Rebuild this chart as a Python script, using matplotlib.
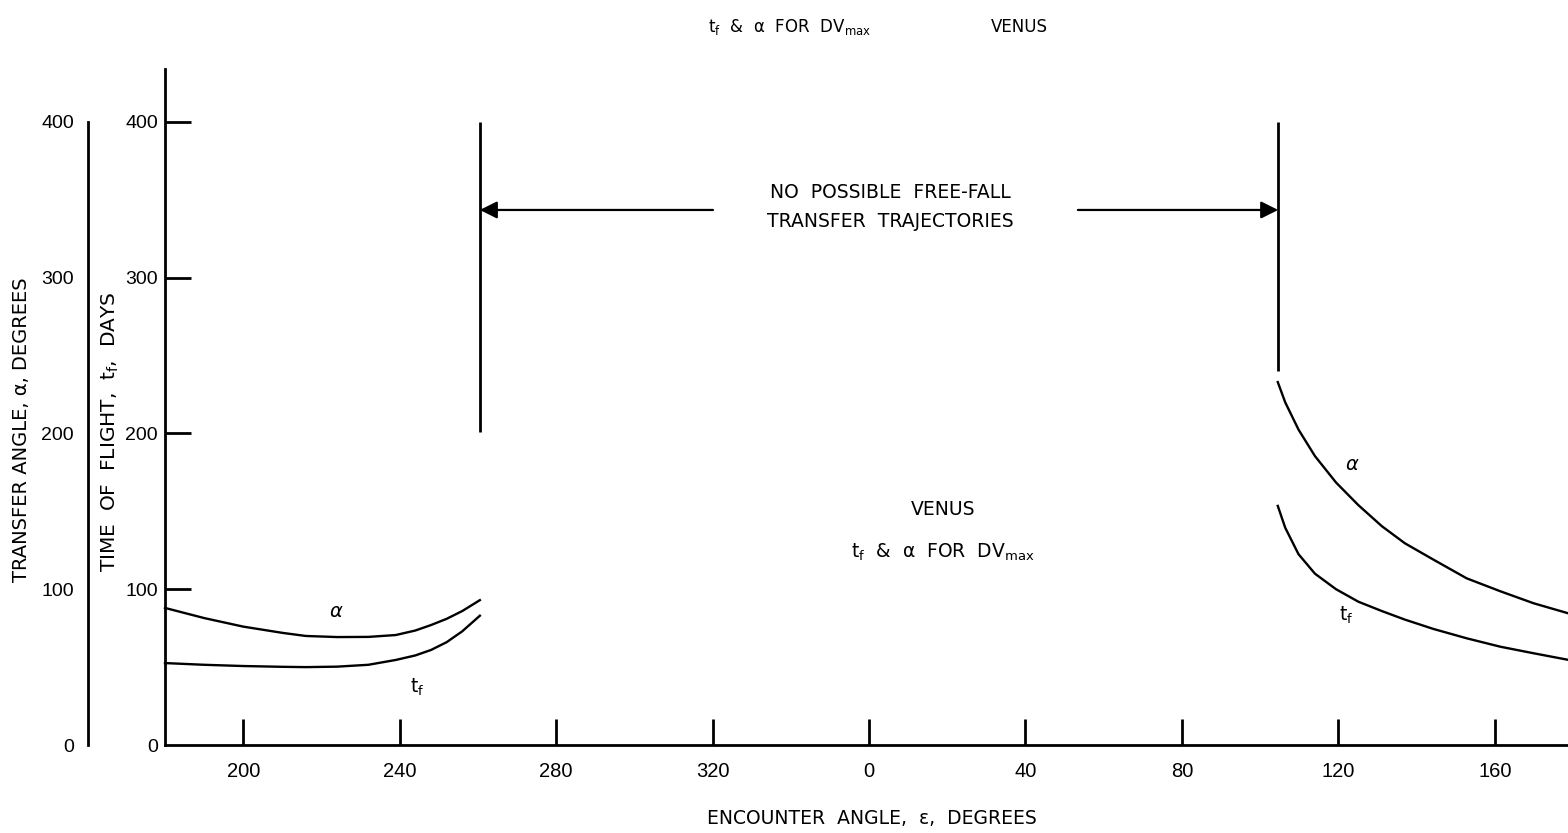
import matplotlib
matplotlib.use("Agg")
import matplotlib.pyplot as plt

plt.rcParams['font.family'] = ['DejaVu Sans']
plt.rcParams['mathtext.fontset'] = 'dejavusans'

# Encounter angle is plotted on a continuous scale 180..540 deg; labels wrap at 360
x_ticks = [200, 240, 280, 320, 360, 400, 440, 480, 520]
x_ticklabels = ["200", "240", "280", "320", "0", "40", "80", "120", "160"]
y_ticks = [0, 100, 200, 300, 400]
y_ticklabels = ["0", "100", "200", "300", "400"]

# Branch below 260 deg
left_angle = [180, 190, 200, 210, 216, 224, 232, 239, 244, 248, 252, 256, 260.5]
left_alpha = [88, 81.5, 76, 72, 70, 69.3, 69.4, 70.6, 73.5, 77, 81, 86, 93]
left_tf = [52.6, 51.5, 50.7, 50.2, 50, 50.3, 51.5, 54.6, 57.5, 61, 66, 73, 83]

# Branch above 104 deg (plotted as 464+)
right_angle = [464.5, 466.4, 469.8, 474, 479.4, 485.1, 491.1, 497, 504.3, 512.8,
               521.4, 529.9, 538.7]
right_alpha = [233, 220, 202.5, 185.5, 168.5, 154, 140.5, 129.5, 119, 107,
               98.7, 91, 84.6]
right_tf = [153.5, 139.5, 122.5, 110, 100, 92, 86, 80.5, 74.5, 68.5, 63.1, 58.9, 54.7]

# Limits of the forbidden region
bound_left = 260.5
bound_right = 464.6
bound_left_low = 201
bound_right_low = 240
bound_top = 400

W, H = 1568, 833
fig = plt.figure(figsize=(W / 100, H / 100), dpi=100)

x0, x1 = 165, 1568
y0, y1 = 745, 69
ax = fig.add_axes([x0 / W, 1 - y0 / H, (x1 - x0) / W, (y0 - y1) / H])
ax.set_xlim(180, 538.7)
ax.set_ylim(0, 434)

for s in ("top", "right"):
    ax.spines[s].set_visible(False)
for s in ("left", "bottom"):
    ax.spines[s].set_linewidth(2.0)

ax.set_xticks(x_ticks)
ax.set_xticklabels(x_ticklabels, fontfamily="Liberation Sans")
ax.set_yticks(y_ticks)
ax.set_yticklabels(y_ticklabels, fontfamily="Liberation Sans")
ax.tick_params(axis="x", direction="in", length=19, width=2.0, pad=12, labelsize=14.5)
ax.tick_params(axis="y", direction="in", length=19, width=2.0, pad=5, labelsize=14)
ax.yaxis.get_major_ticks()[0].tick1line.set_visible(False)

lw = 1.7
ax.plot(left_angle, left_alpha, color="black", lw=lw, clip_on=False)
ax.plot(left_angle, left_tf, color="black", lw=lw, clip_on=False)
ax.plot(right_angle, right_alpha, color="black", lw=lw, clip_on=False)
ax.plot(right_angle, right_tf, color="black", lw=lw, clip_on=False)

ax.vlines(bound_left, bound_left_low, bound_top, color="black", lw=2.0)
ax.vlines(bound_right, bound_right_low, bound_top, color="black", lw=2.0)

arrow_y = 343.5
ap = dict(arrowstyle="-|>", color="black", lw=1.6, mutation_scale=26,
          shrinkA=0, shrinkB=0)
ax.annotate("", xy=(bound_left, arrow_y), xytext=(320.1, arrow_y), arrowprops=ap)
ax.annotate("", xy=(bound_right, arrow_y), xytext=(413.4, arrow_y), arrowprops=ap)

ax.text(365.4, 355, "NO  POSSIBLE  FREE-FALL", ha="center", va="center", fontsize=13.5)
ax.text(365.4, 335.8, "TRANSFER  TRAJECTORIES", ha="center", va="center", fontsize=13.5)

ax.text(378.9, 151, "VENUS", ha="center", va="center", fontsize=13.5)
ax.text(378.9, 124, r"t$_\mathregular{f}$  &  α  FOR  DV$_\mathregular{max}$",
        ha="center", va="center", fontsize=13.5)

ax.text(223.7, 86, "α", ha="center", va="center", fontsize=14, style="italic")
ax.text(244.5, 37, r"t$_\mathregular{f}$", ha="center", va="center", fontsize=13.5)
ax.text(483.5, 180, "α", ha="center", va="center", fontsize=14, style="italic")
ax.text(482, 83, r"t$_\mathregular{f}$", ha="center", va="center", fontsize=13.5)

# Outer scale for the transfer angle
ax2 = fig.add_axes([88 / W, 1 - y0 / H, 0.0005, (y0 - y1) / H])
ax2.set_ylim(0, 434)
for s in ("top", "right", "bottom"):
    ax2.spines[s].set_visible(False)
ax2.spines["left"].set_bounds(0, 400)
ax2.spines["left"].set_linewidth(2.0)
ax2.set_xticks([])
ax2.set_yticks(y_ticks)
ax2.set_yticklabels(y_ticklabels, fontfamily="Liberation Sans")
ax2.tick_params(axis="y", length=0, pad=10, labelsize=14)
ax2.patch.set_visible(False)

fig.text(22 / W, 1 - 430 / H, "TRANSFER ANGLE, α, DEGREES", rotation=90,
         ha="center", va="center", fontsize=14)
fig.text(110 / W, 1 - 432 / H, r"TIME  OF  FLIGHT,  t$_\mathregular{f}$,  DAYS",
         rotation=90, ha="center", va="center", fontsize=14.5)
fig.text(872 / W, 1 - 818 / H, "ENCOUNTER  ANGLE,  ε,  DEGREES",
         ha="center", va="center", fontsize=13.5)
fig.text(790 / W, 1 - 27 / H,
         r"t$_\mathregular{f}$  &  α  FOR  DV$_\mathregular{max}$",
         ha="center", va="center", fontsize=12)
fig.text(1019 / W, 1 - 27 / H, "VENUS", ha="center", va="center", fontsize=12)

fig.savefig("out.png", dpi=100, facecolor="white")
